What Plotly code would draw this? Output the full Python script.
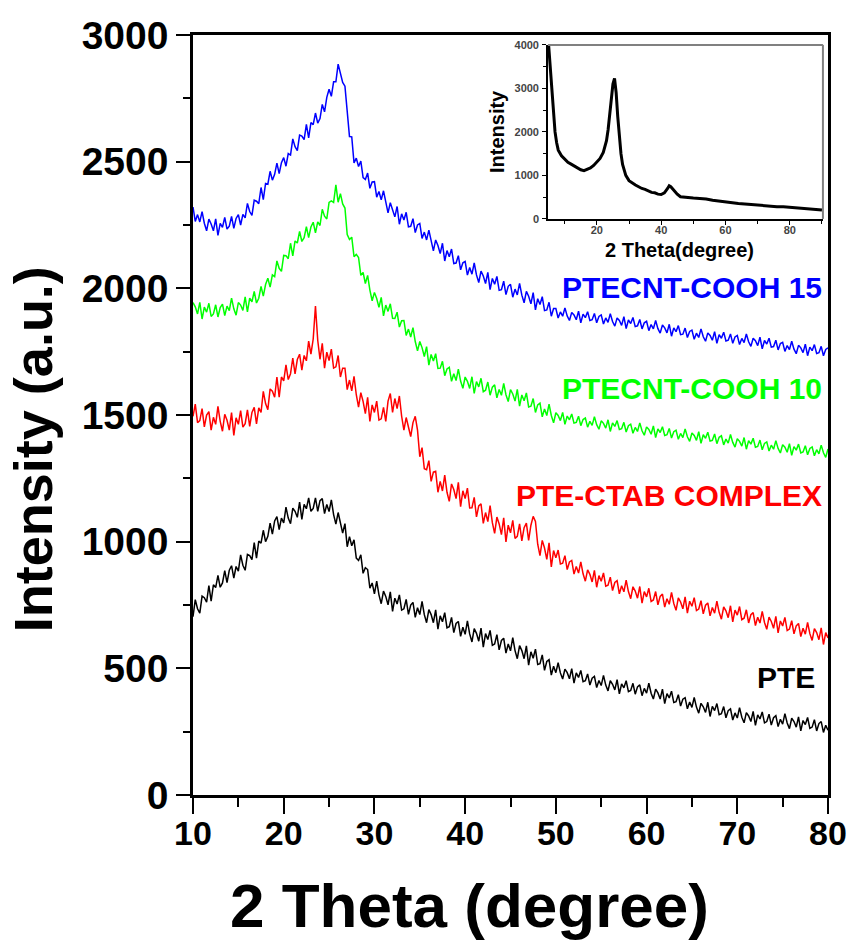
import plotly.graph_objects as go

# ---------------- data (2-theta from 10 to 80 deg, 0.25 deg steps) ----------------
pte = [
    704, 771, 735, 718, 785, 779, 761, 827, 765, 830, 819, 867,      # 10-12.75
    820, 837, 886, 838, 887, 905, 856, 902, 884, 948, 907, 887,      # 13-15.75
    950, 945, 929, 996, 935, 1002, 994, 1045, 1000, 1021, 1073, 1030,  # 16-18.75
    1082, 1099, 1048, 1093, 1074, 1136, 1093, 1071, 1132, 1120, 1096, 1156,  # 19-21.75
    1088, 1147, 1130, 1173, 1120, 1131, 1173, 1120, 1162, 1170, 1111, 1147,  # 22-24.75
    1119, 1165, 1107, 1069, 1115, 1080, 1034, 1071, 980, 1020, 984, 1007,    # 25-27.75
    935, 926, 948, 875, 897, 890, 816, 837, 794, 844, 790, 755,      # 28-30.75
    805, 784, 751, 802, 725, 777, 754, 790, 730, 735, 772, 713,      # 31-33.75
    750, 760, 701, 739, 712, 764, 712, 680, 732, 712, 680, 731,      # 34-36.75
    655, 707, 684, 720, 660, 664, 701, 641, 677, 685, 626, 662,      # 37-39.75
    634, 687, 636, 604, 657, 638, 607, 659, 584, 637, 614, 650,      # 40-42.75
    591, 596, 633, 573, 610, 619, 560, 596, 569, 621, 570, 538,      # 43-45.75
    590, 570, 538, 589, 513, 565, 540, 576, 515, 518, 553, 492,      # 46-48.75
    527, 534, 473, 508, 483, 522, 482, 458, 497, 483, 459, 499,      # 49-51.75
    442, 482, 464, 492, 447, 451, 478, 434, 461, 468, 424, 452,      # 52-54.75
    432, 472, 434, 411, 451, 437, 415, 455, 399, 439, 423, 451,      # 55-57.75
    408, 413, 441, 398, 427, 435, 392, 421, 402, 441, 402, 379,      # 58-60.75
    418, 403, 379, 418, 361, 400, 383, 410, 365, 368, 396, 351,      # 61-63.75
    378, 384, 340, 367, 346, 385, 347, 323, 362, 348, 326, 366,      # 64-66.75
    310, 350, 333, 361, 317, 321, 349, 305, 333, 340, 296, 324,      # 67-69.75
    304, 345, 307, 285, 325, 312, 290, 330, 275, 316, 300, 328,      # 70-72.75
    285, 290, 319, 276, 305, 313, 270, 299, 280, 321, 284, 262,      # 73-75.75
    303, 290, 268, 308, 253, 294, 278, 306, 263, 268, 297, 253,      # 76-78.75
    282, 290, 247, 275, 256,                                         # 79-80
]

pte_ctab = [
    1495, 1543, 1470, 1478, 1525, 1453, 1500, 1513, 1440, 1491, 1463, 1534,   # 10-12.75
    1475, 1436, 1503, 1479, 1440, 1510, 1419, 1489, 1463, 1517, 1452, 1466,   # 13-15.75
    1520, 1455, 1510, 1530, 1465, 1528, 1510, 1593, 1545, 1521, 1603, 1594,   # 16-18.75
    1570, 1650, 1570, 1650, 1635, 1698, 1640, 1663, 1725, 1662, 1719, 1740,   # 19-21.75
    1677, 1735, 1714, 1792, 1740, 1800, 1930, 1795, 1720, 1783, 1685, 1748,   # 22-24.75
    1715, 1760, 1685, 1690, 1735, 1650, 1685, 1685, 1600, 1638, 1595, 1653,   # 25-27.75
    1580, 1531, 1588, 1554, 1505, 1570, 1475, 1540, 1510, 1555, 1480, 1485,   # 28-30.75
    1530, 1475, 1555, 1585, 1510, 1565, 1525, 1575, 1495, 1440, 1490, 1455,   # 31-33.75
    1415, 1470, 1495, 1440, 1335, 1371, 1288, 1284, 1320, 1238, 1275, 1278,   # 34-36.75
    1195, 1238, 1200, 1263, 1195, 1159, 1228, 1206, 1170, 1234, 1138, 1201,   # 37-39.75
    1170, 1211, 1133, 1134, 1175, 1098, 1141, 1149, 1072, 1115, 1079, 1142,   # 40-42.75
    1075, 1033, 1097, 1070, 1028, 1094, 999, 1065, 1035, 1084, 1013, 1021,    # 43-45.75
    1070, 1003, 1055, 1073, 1005, 1065, 1100, 1080, 990, 945, 1005, 975,      # 46-48.75
    930, 995, 900, 965, 936, 967, 912, 915, 945, 890, 920, 926,              # 49-51.75
    872, 902, 876, 920, 873, 844, 889, 871, 841, 887, 820, 866,              # 52-54.75
    844, 877, 824, 828, 860, 807, 839, 846, 794, 826, 802, 848,              # 55-57.75
    803, 775, 822, 805, 777, 823, 757, 803, 782, 816, 764, 770,              # 58-60.75
    803, 751, 784, 793, 742, 775, 753, 800, 756, 729, 778, 762,              # 61-63.75
    735, 782, 718, 765, 745, 779, 728, 734, 767, 715, 749, 758,              # 64-66.75
    707, 740, 718, 765, 721, 694, 743, 727, 700, 747, 683, 730,              # 67-69.75
    710, 744, 692, 698, 731, 679, 712, 720, 669, 702, 679, 725,              # 70-72.75
    681, 654, 702, 685, 658, 705, 640, 687, 667, 701, 649, 655,              # 73-75.75
    688, 636, 668, 677, 625, 658, 635, 681, 637, 610, 657, 641,              # 76-78.75
    613, 660, 594, 641, 620,                                                 # 79-80
]

cooh10 = [
    1944, 1927, 1899, 1945, 1879, 1926, 1906, 1941, 1889, 1899, 1935, 1887,   # 10-12.75
    1924, 1938, 1892, 1930, 1912, 1961, 1919, 1894, 1944, 1934, 1913, 1966,   # 13-15.75
    1907, 1961, 1947, 1988, 1942, 1961, 2008, 1969, 2015, 2040, 2005, 2053,   # 16-18.75
    2046, 2108, 2079, 2067, 2130, 2129, 2117, 2178, 2128, 2187, 2179, 2225,   # 19-21.75
    2185, 2200, 2243, 2200, 2242, 2261, 2219, 2262, 2248, 2312, 2285, 2274,   # 22-24.75
    2339, 2345, 2339, 2408, 2340, 2374, 2333, 2317, 2212, 2193, 2202, 2125,   # 25-27.75
    2134, 2122, 2051, 2063, 2019, 2051, 1993, 1951, 1984, 1960, 1925, 1964,   # 28-30.75
    1891, 1934, 1909, 1939, 1882, 1881, 1906, 1847, 1872, 1873, 1814, 1839,   # 31-33.75
    1808, 1845, 1790, 1753, 1790, 1766, 1731, 1770, 1697, 1739, 1713, 1742,   # 34-36.75
    1684, 1685, 1712, 1655, 1682, 1688, 1633, 1663, 1636, 1681, 1634, 1605,   # 37-39.75
    1650, 1633, 1605, 1651, 1585, 1632, 1611, 1645, 1592, 1598, 1630, 1578,   # 40-42.75
    1610, 1619, 1568, 1601, 1578, 1625, 1580, 1553, 1600, 1583, 1555, 1601,   # 43-45.75
    1535, 1579, 1556, 1587, 1532, 1535, 1565, 1510, 1540, 1547, 1493, 1524,   # 46-48.75
    1498, 1543, 1498, 1469, 1509, 1498, 1478, 1510, 1463, 1496, 1481, 1504,   # 49-51.75
    1468, 1471, 1495, 1458, 1482, 1488, 1452, 1475, 1459, 1493, 1462, 1444,   # 52-54.75
    1477, 1467, 1448, 1481, 1435, 1469, 1455, 1478, 1443, 1446, 1471, 1433,   # 55-57.75
    1458, 1464, 1428, 1451, 1435, 1469, 1438, 1420, 1453, 1443, 1424, 1457,   # 58-60.75
    1411, 1445, 1431, 1454, 1419, 1422, 1447, 1409, 1434, 1440, 1404, 1427,   # 61-63.75
    1411, 1445, 1414, 1396, 1429, 1419, 1400, 1434, 1388, 1422, 1408, 1432,   # 64-66.75
    1397, 1400, 1425, 1387, 1412, 1418, 1382, 1405, 1389, 1423, 1392, 1373,   # 67-69.75
    1406, 1396, 1377, 1411, 1365, 1399, 1385, 1408, 1373, 1376, 1401, 1363,   # 70-72.75
    1388, 1394, 1358, 1381, 1365, 1399, 1368, 1350, 1383, 1373, 1353, 1387,   # 73-75.75
    1341, 1375, 1361, 1385, 1350, 1354, 1379, 1343, 1368, 1374, 1339, 1363,   # 76-78.75
    1347, 1381, 1351, 1333, 1366,                                             # 79-80
]

cooh15 = [
    2321, 2264, 2291, 2262, 2303, 2257, 2227, 2273, 2254, 2227, 2274, 2209,   # 10-12.75
    2256, 2241, 2280, 2234, 2245, 2284, 2237, 2276, 2291, 2250, 2292, 2278,   # 13-15.75
    2335, 2303, 2288, 2348, 2344, 2334, 2398, 2350, 2414, 2411, 2462, 2427,   # 16-18.75
    2450, 2494, 2453, 2496, 2516, 2482, 2532, 2526, 2590, 2559, 2544, 2605,   # 19-21.75
    2601, 2587, 2647, 2594, 2654, 2646, 2692, 2652, 2670, 2726, 2697, 2754,   # 22-24.75
    2786, 2758, 2815, 2815, 2885, 2848, 2813, 2798, 2694, 2599, 2598, 2495,   # 25-27.75
    2514, 2481, 2502, 2437, 2430, 2455, 2395, 2420, 2421, 2360, 2382, 2349,   # 28-30.75
    2385, 2333, 2298, 2338, 2314, 2282, 2323, 2253, 2294, 2270, 2300, 2243,   # 31-33.75
    2245, 2275, 2220, 2250, 2256, 2197, 2222, 2191, 2230, 2181, 2148, 2191,   # 34-36.75
    2169, 2137, 2178, 2108, 2149, 2125, 2155, 2098, 2100, 2129, 2073, 2101,   # 37-39.75
    2106, 2052, 2082, 2056, 2100, 2053, 2023, 2068, 2049, 2019, 2063, 1995,   # 40-42.75
    2039, 2016, 2047, 1992, 1995, 2028, 1975, 2008, 2016, 1965, 1997, 1974,   # 43-45.75
    2020, 1973, 1943, 1988, 1969, 1939, 1983, 1915, 1959, 1936, 1967, 1912,   # 46-48.75
    1915, 1945, 1890, 1920, 1920, 1883, 1907, 1890, 1923, 1891, 1873, 1905,   # 49-51.75
    1895, 1876, 1910, 1864, 1898, 1884, 1908, 1873, 1876, 1901, 1864, 1889,   # 52-54.75
    1895, 1859, 1883, 1866, 1900, 1869, 1851, 1883, 1873, 1854, 1888, 1841,   # 55-57.75
    1875, 1861, 1885, 1849, 1852, 1877, 1840, 1864, 1870, 1833, 1857, 1840,   # 58-60.75
    1873, 1841, 1823, 1855, 1844, 1824, 1858, 1811, 1844, 1829, 1853, 1817,   # 61-63.75
    1819, 1843, 1806, 1830, 1835, 1799, 1823, 1806, 1840, 1809, 1791, 1824,   # 64-66.75
    1814, 1795, 1829, 1783, 1817, 1803, 1827, 1792, 1795, 1820, 1783, 1808,   # 67-69.75
    1814, 1778, 1802, 1786, 1820, 1789, 1771, 1803, 1793, 1774, 1807, 1761,   # 70-72.75
    1794, 1780, 1803, 1768, 1770, 1795, 1757, 1782, 1787, 1751, 1774, 1758,   # 73-75.75
    1791, 1760, 1742, 1775, 1765, 1746, 1780, 1734, 1768, 1754, 1778, 1743,   # 76-78.75
    1746, 1771, 1734, 1759, 1765,                                             # 79-80
]

inset_x = [5, 5.5, 6, 6.5, 7, 7.5, 8, 9, 10, 11, 12, 13, 14, 15, 16, 17, 18, 19, 20, 21, 22,
           23, 23.5, 24, 24.5, 25, 25.5, 26, 26.5, 27, 27.5, 28, 29, 30, 31, 32, 33, 34, 35,
           36, 37, 38, 39, 40, 41, 42, 42.5, 43, 43.5, 44, 45, 46, 47, 48, 50, 52, 54, 56,
           58, 60, 62, 64, 66, 68, 70, 72, 74, 76, 78, 80, 82, 84, 86, 88, 90]
inset_y = [4000, 3450, 2900, 2400, 2000, 1750, 1580, 1450, 1380, 1300, 1260, 1210, 1170,
           1130, 1110, 1140, 1170, 1230, 1300, 1390, 1530, 1800, 2050, 2400, 2800, 3100,
           3230, 2900, 2350, 1900, 1500, 1250, 1000, 880, 820, 780, 740, 700, 680, 640,
           610, 600, 570, 560, 600, 700, 760, 740, 700, 640, 570, 510, 500, 490, 480, 470,
           460, 430, 410, 380, 370, 355, 345, 330, 310, 300, 290, 280, 280, 265, 250, 245,
           235, 220, 205]

series_names = ["PTE", "PTE-CTAB COMPLEX", "PTECNT-COOH 10", "PTECNT-COOH 15"]
series_vals = [pte, pte_ctab, cooh10, cooh15]
series_colors = ["#000000", "#ff0000", "#00ff00", "#0000ff"]
label_y = [462, 1184, 1603, 2005]

x_ticks = [10, 20, 30, 40, 50, 60, 70, 80]
y_ticks = [0, 500, 1000, 1500, 2000, 2500, 3000]

# ---------------- figure ----------------
fig = go.Figure()
for name, vals, col in zip(series_names, series_vals, series_colors):
    xs = [10 + 0.25 * i for i in range(len(vals))]
    fig.add_trace(go.Scatter(x=xs, y=vals, mode="lines", name=name,
                             line=dict(color=col, width=1.5), showlegend=False))

fig.add_trace(go.Scatter(x=inset_x, y=inset_y, mode="lines", xaxis="x2", yaxis="y2",
                         line=dict(color="#000000", width=3), showlegend=False))

AX = "Liberation Sans, Arial, sans-serif"

fig.update_layout(
    width=851, height=942,
    margin=dict(l=193, r=23, t=35, b=147),
    paper_bgcolor="white", plot_bgcolor="white",
    xaxis=dict(range=[10, 80], tickvals=x_ticks, ticks="outside", ticklen=16, tickwidth=2,
               tickcolor="black", showline=True, linecolor="black", linewidth=2.5,
               mirror=True, showgrid=False, zeroline=False, ticklabeloverflow="allow",
               automargin=False,
               minor=dict(dtick=5, ticks="outside", ticklen=9, tickwidth=2, tickcolor="black"),
               tickfont=dict(family=AX, size=34, color="black", weight="bold"),
               ticklabelstandoff=-10),
    yaxis=dict(range=[0, 3000], tickvals=y_ticks, ticks="outside", ticklen=14, tickwidth=2,
               tickcolor="black", showline=True, linecolor="black", linewidth=2.5,
               mirror=True, showgrid=False, zeroline=False, ticklabeloverflow="allow",
               automargin=False,
               minor=dict(dtick=250, ticks="outside", ticklen=7, tickwidth=2, tickcolor="black"),
               tickfont=dict(family=AX, size=39, color="black", weight="bold"),
               ticklabelstandoff=0),
    xaxis2=dict(domain=[0.559, 0.992], anchor="y2", range=[4.8, 90.3],
                tickvals=[20, 40, 60, 80], ticks="outside", ticklen=4, tickwidth=1,
                tickcolor="black", showline=True, linecolor="black", linewidth=1.5,
                showgrid=False, zeroline=False, automargin=False,
                minor=dict(tickvals=[10, 30, 50, 70, 90], ticks="outside", ticklen=3,
                           tickwidth=1, tickcolor="black"),
                tickfont=dict(family=AX, size=11, color="#444444", weight="bold"),
                ticklabelstandoff=-4),
    yaxis2=dict(domain=[0.758, 0.987], anchor="x2", range=[0, 4000],
                tickvals=[0, 1000, 2000, 3000, 4000], ticks="outside", ticklen=4,
                tickwidth=1, tickcolor="black", showline=True, linecolor="black",
                linewidth=1.5, showgrid=False, zeroline=False, automargin=False,
                minor=dict(dtick=500, ticks="outside", ticklen=3, tickwidth=1,
                           tickcolor="black"),
                tickfont=dict(family=AX, size=11, color="#444444", weight="bold"),
                ticklabelstandoff=1),
)

# gray top / right frame of the inset
fig.add_shape(type="line", xref="x2 domain", yref="y2 domain", x0=0, x1=1, y0=1, y1=1,
              line=dict(color="#808080", width=2))
fig.add_shape(type="line", xref="x2 domain", yref="y2 domain", x0=1, x1=1, y0=0, y1=1,
              line=dict(color="#808080", width=2))

# series labels
for name, col, yv in zip(series_names, series_colors, label_y):
    xr = 79.6 if name != "PTE" else 78.8
    fig.add_annotation(x=xr, y=yv, xref="x", yref="y", text=name, showarrow=False,
                       xanchor="right", yanchor="middle",
                       font=dict(family=AX, size=30, color=col, weight="bold"))

# axis titles
fig.add_annotation(x=0.435, y=-0.146, xref="paper", yref="paper", text="2 Theta (degree)",
                   showarrow=False, xanchor="center", yanchor="middle",
                   font=dict(family=AX, size=62, color="black", weight="bold"))
fig.add_annotation(x=-0.252, y=0.455, xref="paper", yref="paper", text="Intensity (a.u.)",
                   showarrow=False, textangle=-90, xanchor="center", yanchor="middle",
                   font=dict(family=AX, size=54, color="black", weight="bold"))

# inset titles
fig.add_annotation(x=0.48, y=-0.18, xref="x2 domain", yref="y2 domain",
                   text="2 Theta(degree)", showarrow=False, xanchor="center",
                   yanchor="middle", font=dict(family=AX, size=20, color="black", weight="bold"))
fig.add_annotation(x=-0.185, y=0.5, xref="x2 domain", yref="y2 domain",
                   text="Intensity", showarrow=False, textangle=-90, xanchor="center",
                   yanchor="middle", font=dict(family=AX, size=20, color="black", weight="bold"))

fig.write_html("out.html")
